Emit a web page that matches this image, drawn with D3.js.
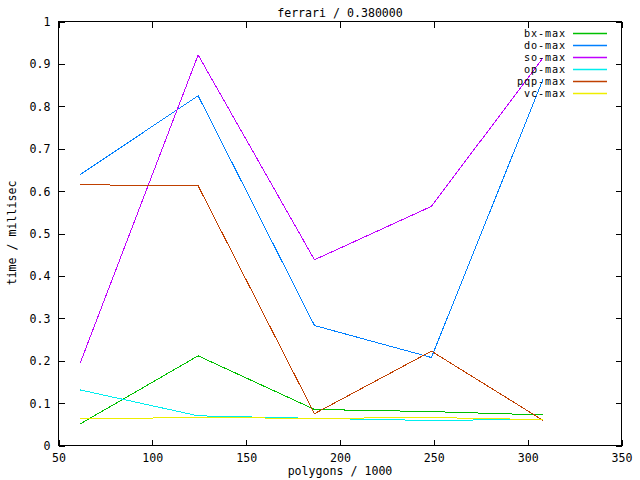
<!DOCTYPE html>
<html><head><meta charset="utf-8">
<script src="https://cdn.jsdelivr.net/npm/d3@7"></script>
<style>
html,body{margin:0;padding:0;background:#fff;}
svg text{font-family:"DejaVu Sans Mono",monospace;font-size:11.6px;fill:#000;}
svg text.leg{font-size:10.2px;letter-spacing:0.86px;}
</style></head>
<body>
<svg id="c" width="640" height="480"></svg>
<script>
const xValues = [61.6, 124.4, 186.4, 248.7, 308.3];
const seriesNames = ["bx-max", "do-max", "so-max", "op-max", "pqp-max", "vc-max"];
const bxMax  = [0.051, 0.2115, 0.085, 0.080, 0.072];
const doMax  = [0.639, 0.825, 0.283, 0.2075, 0.865];
const soMax  = [0.195, 0.921, 0.438, 0.564, 0.915];
const opMax  = [0.131, 0.070, 0.064, 0.059, 0.062];
const pqpMax = [0.615, 0.6125, 0.075, 0.2225, 0.059];
const vcMax  = [0.063, 0.066, 0.064, 0.066, 0.061];
const colors = ["#00c000", "#0080ff", "#c000ff", "#00eeee", "#c04000", "#eeee00"];
const xTicks = [50, 100, 150, 200, 250, 300, 350];
const yTicks = [0, 0.1, 0.2, 0.3, 0.4, 0.5, 0.6, 0.7, 0.8, 0.9, 1];
const title = "ferrari / 0.380000";
const xLabel = "polygons / 1000";
const yLabel = "time / millisec";

const allSeries = [bxMax, doMax, soMax, opMax, pqpMax, vcMax];

const L = 58.5, R = 621.5, T = 21.5, B = 445.5;
const svg = d3.select("#c");
const x = d3.scaleLinear().domain([50, 350]).range([L, R]);
const y = d3.scaleLinear().domain([0, 1]).range([B, T]);

// series lines
const line = d3.line().x((d, i) => x(xValues[i])).y(d => y(d));
allSeries.forEach((s, k) => {
  svg.append("path").datum(s).attr("d", line)
    .attr("fill", "none").attr("stroke", colors[k]).attr("stroke-width", 1)
    .attr("shape-rendering", "crispEdges");
});

// axes
const tl = 6;
const gB = svg.append("g").attr("transform", `translate(0,${B})`)
  .call(d3.axisBottom(x).tickValues(xTicks).tickSize(-tl).tickFormat(d3.format("d")).tickPadding(12));
const gT = svg.append("g").attr("transform", `translate(0,${T})`)
  .call(d3.axisTop(x).tickValues(xTicks).tickSize(-tl).tickFormat(""));
const gL = svg.append("g").attr("transform", `translate(${L},0)`)
  .call(d3.axisLeft(y).tickValues(yTicks).tickSize(-tl).tickFormat(d => d3.format("")(+d.toFixed(1))).tickPadding(8));
const gR = svg.append("g").attr("transform", `translate(${R},0)`)
  .call(d3.axisRight(y).tickValues(yTicks).tickSize(-tl).tickFormat(""));
[gB, gT, gL, gR].forEach(g => {
  g.selectAll(".domain").remove();
  g.selectAll("line").attr("stroke", "#000").attr("shape-rendering", "crispEdges");
  g.selectAll("text").attr("font-family", null).attr("font-size", null).attr("fill", "#000");
});
gB.selectAll("text").attr("dy", "0.35em");
gL.selectAll("text").attr("dy", "0.35em");

svg.append("rect").attr("x", L).attr("y", T).attr("width", R - L).attr("height", B - T)
  .attr("fill", "none").attr("stroke", "#000").attr("stroke-width", 1)
  .attr("shape-rendering", "crispEdges");

// title and labels
svg.append("text").attr("x", (L + R) / 2).attr("y", 13).attr("dy", "0.35em")
  .attr("text-anchor", "middle").text(title);
svg.append("text").attr("x", (L + R) / 2).attr("y", 471).attr("dy", "0.35em")
  .attr("text-anchor", "middle").text(xLabel);
svg.append("text").attr("transform", "translate(12,233) rotate(-90)").attr("dy", "0.35em")
  .attr("text-anchor", "middle").text(yLabel);

// legend
seriesNames.forEach((n, k) => {
  const ly = 33 + k * 12;
  svg.append("text").attr("class", "leg").attr("x", 566).attr("y", ly).attr("dy", "0.35em")
    .attr("text-anchor", "end").text(n);
  svg.append("path").attr("d", `M573,${ly + 0.5}H607`)
    .attr("stroke", colors[k]).attr("stroke-width", 1.3).attr("fill", "none");
});
</script>
</body></html>
